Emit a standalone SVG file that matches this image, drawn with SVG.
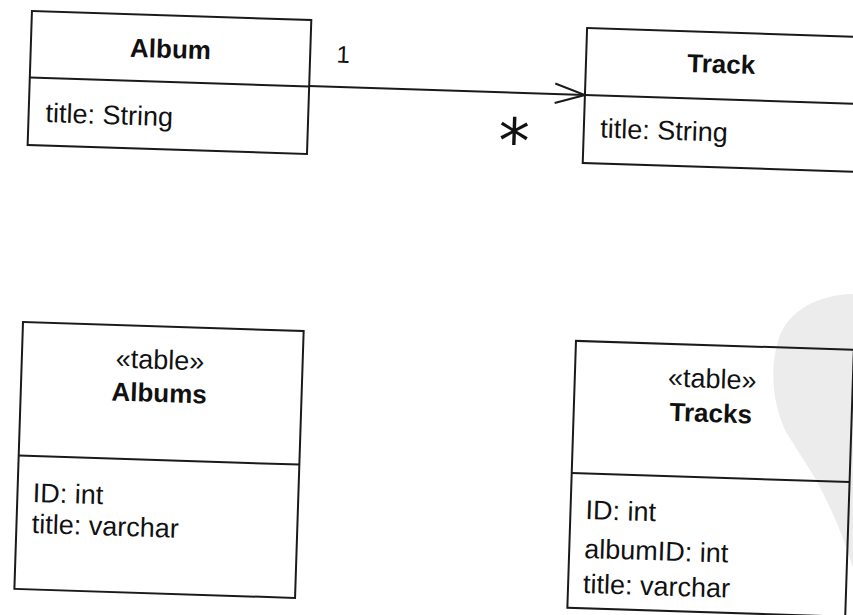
<svg xmlns="http://www.w3.org/2000/svg" width="853" height="615" viewBox="0 0 853 615">
<style>
.box{fill:none;stroke:#1a1a1a;stroke-width:2}
.ln{fill:none;stroke:#1a1a1a;stroke-width:2}
.t{font-family:"Liberation Sans",Arial,sans-serif;font-size:27px;fill:#111}
.b{font-weight:bold;text-anchor:middle;font-size:26px}
.c{text-anchor:middle}
.one{font-size:24px}
.star{font-family:"DejaVu Sans",sans-serif;font-size:62px}
</style>
<rect width="853" height="615" fill="#ffffff"/>
<path d="M853,294 C815,295 788,312 779,338 C770,365 771,400 786,432 L815,478 C830,505 843,535 853,568 Z" fill="#ececec"/>
<g transform="rotate(1.85 426 307)">
  <g id="album">
    <rect class="box" x="22.6" y="23.9" width="279.5" height="134"/>
    <line class="ln" x1="22.6" y1="90.4" x2="302.1" y2="90.4"/>
    <text class="t b" x="162.3" y="66.4">Album</text>
    <text class="t" x="39.5" y="134.5">title: String</text>
  </g>
  <g id="track">
    <rect class="box" x="578" y="23" width="279" height="135"/>
    <line class="ln" x1="578" y1="90" x2="857" y2="90"/>
    <text class="t b" x="713.3" y="63.6">Track</text>
    <text class="t" x="594.4" y="132">title: String</text>
  </g>
  <g id="albums">
    <rect class="box" x="23.7" y="335" width="280.8" height="267"/>
    <line class="ln" x1="23.7" y1="468.6" x2="304.5" y2="468.6"/>
    <text class="t c" x="162" y="377.6">«table»</text>
    <text class="t b" x="162" y="410.6">Albums</text>
    <text class="t" x="39" y="514.6">ID: int</text>
    <text class="t" x="39" y="545.6">title: varchar</text>
  </g>
  <g id="tracks">
    <rect class="box" x="577" y="336" width="278" height="267"/>
    <line class="ln" x1="577" y1="468.2" x2="855" y2="468.2"/>
    <text class="t c" x="714.5" y="378.7">«table»</text>
    <text class="t b" x="714" y="412.8">Tracks</text>
    <text class="t" x="592" y="513.8">ID: int</text>
    <text class="t" x="592" y="552.7">albumID: int</text>
    <text class="t" x="592" y="587.7">title: varchar</text>
  </g>
  <g id="connectors">
    <line class="ln" x1="302" y1="90" x2="578" y2="90"/>
    <polyline class="ln" points="548,79.5 578,90 548,99"/>
    <text class="t c one" x="335" y="65.5">1</text>
    <text class="t c star" x="508.5" y="160">*</text>
  </g>
</g>
</svg>
